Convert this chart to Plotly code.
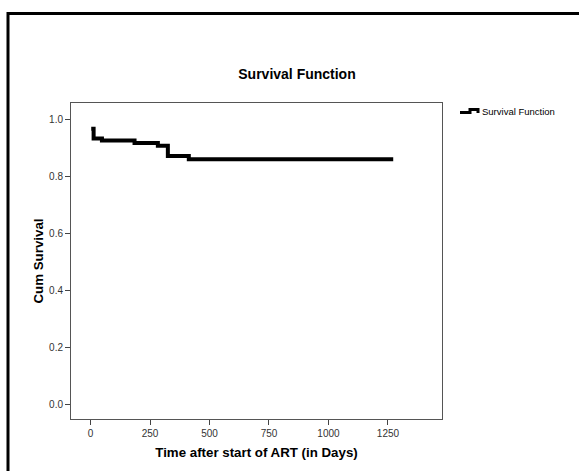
import plotly.graph_objects as go

# Data (Kaplan-Meier step function)
time_days = [3, 13, 48, 185, 283, 325, 413, 1272]
cum_survival = [0.967, 0.933, 0.926, 0.917, 0.907, 0.871, 0.860, 0.860]
x_ticks = [0, 250, 500, 750, 1000, 1250]
y_ticks = [0.0, 0.2, 0.4, 0.6, 0.8, 1.0]
series_name = "Survival Function"

W, H = 579, 471
L, R, T, B = 71, 137, 103, 52
pw, ph = W - L - R, H - T - B

def px_x(p):
    return (p - L) / pw

def px_y(p):
    return (H - B - p) / ph

FONT = "Liberation Sans, Arial, sans-serif"

fig = go.Figure()
fig.add_trace(go.Scatter(
    x=time_days, y=cum_survival, mode="lines", line_shape="hv",
    line=dict(color="black", width=4), name=series_name, showlegend=False,
    hoverinfo="x+y",
))

axis_common = dict(
    showgrid=False, zeroline=False, showline=True, linecolor="#555555",
    linewidth=1, mirror=True, ticks="outside", ticklen=5, tickwidth=1,
    tickcolor="#444444", tickfont=dict(family=FONT, size=10, color="#333333"),
    automargin=False,
)

fig.update_xaxes(
    range=[-82, 1477], tickvals=x_ticks, ticktext=[str(v) for v in x_ticks],
    title=dict(text="<b>Time after start of ART (in Days)</b>",
               font=dict(family=FONT, size=13.3, color="black"), standoff=9),
    **axis_common,
)
fig.update_yaxes(
    range=[-0.0527, 1.0573], tickvals=y_ticks,
    ticktext=[f"{v:.1f}" for v in y_ticks],
    title=dict(text="<b>Cum Survival</b>",
               font=dict(family=FONT, size=13.3, color="black"), standoff=2),
    **axis_common,
)

shapes = [
    # outer chart frame
    dict(type="rect", xref="paper", yref="paper",
         x0=px_x(8), y0=px_y(490), x1=px_x(600), y1=px_y(13.6),
         line=dict(color="black", width=3), fillcolor="rgba(0,0,0,0)",
         layer="below"),
    # legend step icon
    dict(type="path", xref="paper", yref="paper",
         path=(f"M {px_x(460)},{px_y(112.5)} L {px_x(470)},{px_y(112.5)} "
               f"L {px_x(470)},{px_y(109.5)} L {px_x(478)},{px_y(109.5)} "
               f"L {px_x(478)},{px_y(113)}"),
         line=dict(color="black", width=3)),
]

annotations = [
    dict(text=series_name, xref="paper", yref="paper", x=px_x(480),
         y=px_y(111), xanchor="left", yanchor="middle", showarrow=False,
         font=dict(family=FONT, size=9.5, color="black")),
]

fig.update_layout(
    width=W, height=H, template="none",
    margin=dict(l=L, r=R, t=T, b=B, pad=0),
    paper_bgcolor="white", plot_bgcolor="white",
    title=dict(text="<b>Survival Function</b>", x=px_x(297), xref="paper",
               y=1 - 73.8 / H, yref="container", xanchor="center",
               yanchor="middle", font=dict(family=FONT, size=14, color="black")),
    shapes=shapes, annotations=annotations, showlegend=False,
)

fig.write_html("out.html")
